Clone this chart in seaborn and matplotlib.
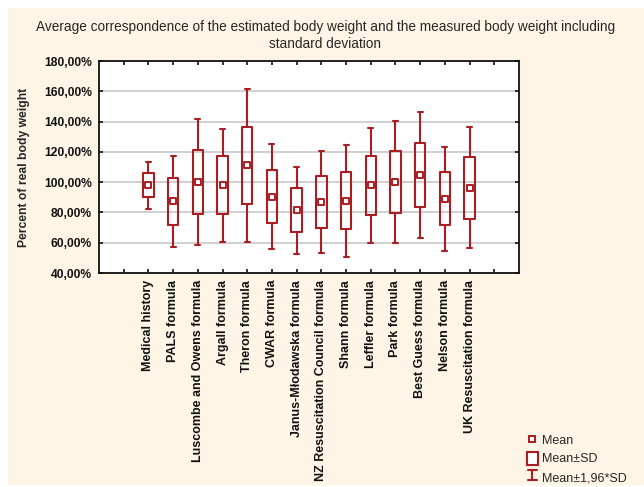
import numpy as np
import pandas as pd
import seaborn as sns
import matplotlib.pyplot as plt
from matplotlib.patches import Rectangle, Patch
from matplotlib.lines import Line2D

methods = ['Medical history', 'PALS formula', 'Luscombe and Owens formula',
           'Argall formula', 'Theron formula', 'CWAR formula',
           'Janus-Młodawska formula', 'NZ Resuscitation Council formula',
           'Shann formula', 'Leffler formula', 'Park formula',
           'Best Guess formula', 'Nelson formula', 'UK Resuscitation formula']
means = [98.0, 87.3, 100.0, 98.0, 111.0, 90.5, 81.5, 87.0, 87.7, 98.0,
         100.0, 104.7, 89.0, 96.3]
sds = [7.9, 15.4, 21.3, 19.0, 25.7, 17.8, 14.7, 17.2, 18.9, 19.4,
       20.5, 21.1, 17.5, 20.4]

red = '#AA1E23'
cream = '#FEF5E6'


class WhiskerHandle:
    pass


class WhiskerHandler:
    # draws an "I" shaped whisker for the legend
    def legend_artist(self, legend, orig_handle, fontsize, handlebox):
        x0, y0 = handlebox.xdescent, handlebox.ydescent
        w, h = handlebox.width, handlebox.height
        cx = x0 + w / 2
        lo, hi = y0 - 1, y0 + h - 3
        kw = dict(color=red, linewidth=1.5, transform=handlebox.get_transform())
        lines = [Line2D([cx, cx], [lo, hi], **kw),
                 Line2D([cx - 3, cx + 3], [hi, hi], **kw),
                 Line2D([cx - 3, cx + 3], [lo, lo], **kw)]
        for ln in lines:
            handlebox.add_artist(ln)
        return lines[0]


sns.set_theme(style='white')
plt.rcParams['font.family'] = ['Liberation Sans', 'DejaVu Sans']

df = pd.DataFrame({'method': methods, 'mean': means, 'sd': sds})
df['pos'] = np.arange(1, len(df) + 1)

fig = plt.figure(figsize=(6.44, 4.87), dpi=100)
fig.patch.set_facecolor('white')
fig.patches.append(Rectangle((8 / 644, 2 / 487), 1, 1 - 10 / 487,
                             transform=fig.transFigure, facecolor=cream,
                             edgecolor='none', zorder=-10))
ax = fig.add_axes([99 / 644, 1 - 273 / 487, 420 / 644, 212 / 487])
ax.set_facecolor('white')

stats = []
for m, s in zip(df['mean'], df['sd']):
    stats.append(dict(med=m, q1=m - s, q3=m + s, whislo=m - 1.96 * s,
                      whishi=m + 1.96 * s, fliers=[]))
ax.bxp(stats, positions=df['pos'], widths=0.42, showfliers=False,
       boxprops=dict(color=red, linewidth=1.5),
       whiskerprops=dict(color=red, linewidth=1.5),
       capprops=dict(color=red, linewidth=1.5),
       medianprops=dict(linewidth=0), capwidths=0.2, zorder=3)
sns.scatterplot(data=df, x='pos', y='mean', marker='s', s=18,
                facecolor='white', edgecolor=red, linewidth=1.4,
                ax=ax, zorder=4, legend=False)

ax.set_xlim(-1, 16)
ax.set_ylim(40, 180)
ax.set_xticks(np.arange(0, 16))
ax.set_xticklabels([''] + methods + [''], rotation=90, fontsize=9,
                   fontweight='bold')
yt = np.arange(40, 181, 20)
ax.set_yticks(yt)
ax.set_yticklabels([f'{v},00%' for v in yt], fontsize=8.7, fontweight='bold')
ax.yaxis.grid(True, color='#c8c8c8', linewidth=1.2)
ax.set_axisbelow(True)
ax.tick_params(direction='in', length=3, width=1.2, top=True, right=True,
               bottom=True, left=True, colors='#111111', pad=5)
ax.tick_params(axis='x', pad=5)
for sp in ax.spines.values():
    sp.set_color('#111111')
    sp.set_linewidth(1.3)
ax.set_xlabel('')
ax.set_ylabel('Percent of real body weight', fontsize=8.7, fontweight='bold',
              labelpad=10)

fig.text(0.505, 0.927, 'Average correspondence of the estimated body weight '
         'and the measured body weight including\nstandard deviation',
         ha='center', va='center', fontsize=9.8, linespacing=1.35)

handles = [Line2D([], [], marker='s', markersize=4, markerfacecolor='white',
                  markeredgecolor=red, markeredgewidth=1.4, linestyle='none'),
           Patch(facecolor='white', edgecolor=red, linewidth=1.5),
           WhiskerHandle()]
fig.legend(handles, ['Mean', 'Mean±SD', 'Mean±1,96*SD'], loc='lower left',
           bbox_to_anchor=(518 / 644, -0.012), frameon=False, fontsize=9,
           handlelength=0.9, handleheight=1.2, handletextpad=0.35,
           labelspacing=0.4, borderpad=0.2,
           handler_map={WhiskerHandle: WhiskerHandler()})

fig.savefig('out.png', dpi=100, facecolor=fig.get_facecolor())
